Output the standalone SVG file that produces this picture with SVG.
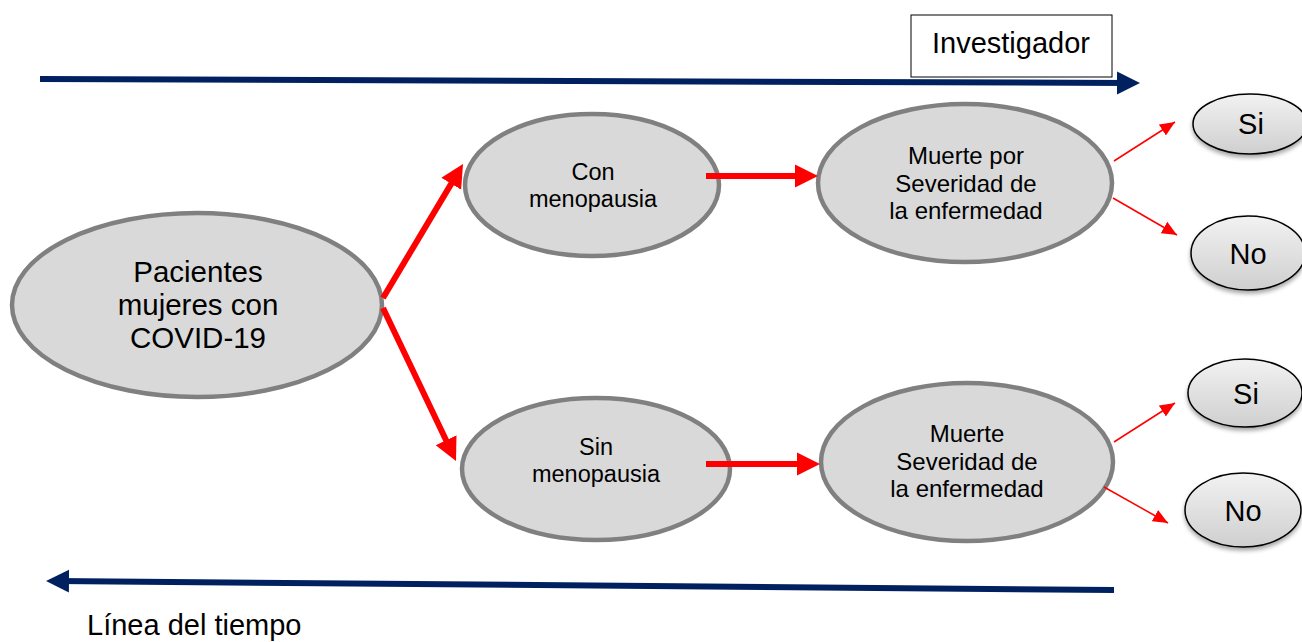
<svg xmlns="http://www.w3.org/2000/svg" width="1302" height="642" viewBox="0 0 1302 642">
<defs>
<style>
.big{fill:#d9d9d9;stroke:#808080;stroke-width:4.5}
.small{fill:url(#g);stroke:#000;stroke-width:1.5;filter:url(#sh)}
text{font-family:"Liberation Sans",Arial,sans-serif;fill:#000;text-anchor:middle}
.thick{stroke:#ff0000;stroke-width:6;fill:none}
.thin{stroke:#ff0000;stroke-width:1.5;fill:none}
.blue{stroke:#002060;stroke-width:6;fill:none}
</style>
<linearGradient id="g" x1="0" y1="0" x2="0" y2="1">
<stop offset="0" stop-color="#f2f2f2"/>
<stop offset="1" stop-color="#cfcfcf"/>
</linearGradient>
<filter id="sh" x="-20%" y="-20%" width="140%" height="150%">
<feDropShadow dx="0" dy="3" stdDeviation="2" flood-color="#000" flood-opacity="0.35"/>
</filter>
<marker id="ah" markerWidth="24" markerHeight="24" refX="13" refY="12" orient="auto" markerUnits="userSpaceOnUse">
<path d="M0,0.5 L23,12 L0,23.5 z" fill="#ff0000"/>
</marker>
<marker id="ahs" markerWidth="16" markerHeight="14" refX="15" refY="7" orient="auto" markerUnits="userSpaceOnUse">
<path d="M0,0.5 L15,7 L0,13.5 z" fill="#ff0000"/>
</marker>
<marker id="ahb" markerWidth="24" markerHeight="24" refX="13" refY="12" orient="auto" markerUnits="userSpaceOnUse">
<path d="M0,0.5 L23,12 L0,23.5 z" fill="#002060"/>
</marker>
</defs>

<g id="investigador">
<rect x="911" y="15" width="201" height="62" fill="#fff" stroke="#000" stroke-width="1"/>
<text x="1011" y="53" font-size="29">Investigador</text>
</g>

<g id="pacientes">
<ellipse class="big" cx="197" cy="305" rx="185" ry="92"/>
<text x="198" y="282" font-size="29.5">Pacientes</text>
<text x="198" y="315" font-size="29.5">mujeres con</text>
<text x="198" y="348" font-size="29.5">COVID-19</text>
</g>

<g id="con">
<ellipse class="big" cx="592" cy="185" rx="127" ry="71"/>
<text x="593" y="180" font-size="23.5">Con</text>
<text x="593" y="207" font-size="23.5">menopausia</text>
</g>

<g id="sin">
<ellipse class="big" cx="596" cy="469" rx="134" ry="71"/>
<text x="596" y="455" font-size="23.5">Sin</text>
<text x="596" y="482" font-size="23.5">menopausia</text>
</g>

<g id="muerte1">
<ellipse class="big" cx="965" cy="183" rx="147" ry="79"/>
<text x="966" y="164" font-size="24">Muerte por</text>
<text x="966" y="192" font-size="24">Severidad de</text>
<text x="966" y="219" font-size="24">la enfermedad</text>
</g>

<g id="muerte2">
<ellipse class="big" cx="967" cy="462" rx="146" ry="79"/>
<text x="967" y="442" font-size="24">Muerte</text>
<text x="967" y="470" font-size="24">Severidad de</text>
<text x="967" y="497" font-size="24">la enfermedad</text>
</g>

<g id="si1">
<ellipse class="small" cx="1250" cy="124" rx="57" ry="30"/>
<text x="1251" y="134" font-size="29">Si</text>
</g>
<g id="no1">
<ellipse class="small" cx="1248" cy="253" rx="57" ry="37"/>
<text x="1248" y="264" font-size="29">No</text>
</g>
<g id="si2">
<ellipse class="small" cx="1245" cy="393" rx="57" ry="34"/>
<text x="1246" y="404" font-size="29">Si</text>
</g>
<g id="no2">
<ellipse class="small" cx="1243" cy="510" rx="58" ry="37"/>
<text x="1243" y="521" font-size="29">No</text>
</g>

<g id="linea">
<text x="87" y="635" font-size="29" style="text-anchor:start">Línea del tiempo</text>
</g>

<g id="connectors">
<path class="blue" d="M40,79 L1130,83" marker-end="url(#ahb)"/>
<path class="blue" d="M1114,590 L56,581" marker-end="url(#ahb)"/>
<path class="thick" d="M383,298 L457.9,172.6" marker-end="url(#ah)"/>
<path class="thick" d="M383,308 L451.7,452" marker-end="url(#ah)"/>
<path class="thick" d="M706,176 L808,176" marker-end="url(#ah)"/>
<path class="thick" d="M706,464 L810,464" marker-end="url(#ah)"/>
<path class="thin" d="M1114,161 L1175,122" marker-end="url(#ahs)"/>
<path class="thin" d="M1113,198 L1177,235" marker-end="url(#ahs)"/>
<path class="thin" d="M1114,442 L1175,403" marker-end="url(#ahs)"/>
<path class="thin" d="M1104,487 L1168,523" marker-end="url(#ahs)"/>
</g>
</svg>
